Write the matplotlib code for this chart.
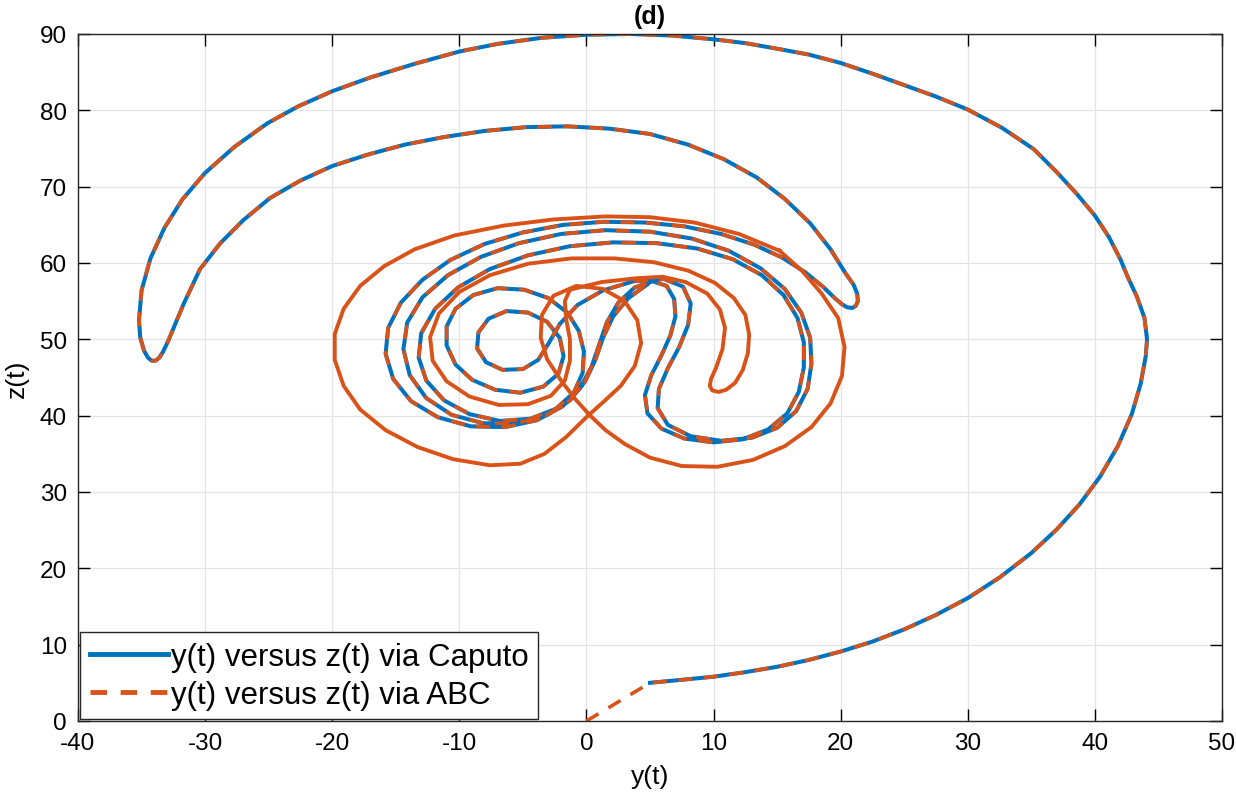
import numpy as np
import matplotlib.pyplot as plt
from matplotlib.lines import Line2D

plt.rcParams['font.family'] = ['Liberation Sans', 'DejaVu Sans']
plt.rcParams['axes.unicode_minus'] = False

BLUE = '#0072BD'
ORANGE = '#D95319'

# ABC starts at the origin, Caputo joins at (5, 5)
abc_start_y = [0.0]
abc_start_z = [0.0]

# outer spiral, shared by both methods
outer_y = [5, 7.5, 10, 12.5, 15, 17.5, 20, 22.5, 25, 27.5, 30, 32.5, 35, 37, 38.8, 40.4, 41.8, 42.9,
           43.6, 44.0, 44.1, 43.9, 43.3, 42.6, 42.0, 41.1, 40.0, 38.6, 37.0, 35.2, 32.7, 30.0, 27.5, 25.0,
           22.5, 20.0, 17.5, 14.9, 12.5, 10.0, 6.7, 3.4, 0.0, -3.5, -7.0, -10.0, -13.5, -17.0, -20.0,
           -22.7, -25.1, -27.7, -30.0, -31.8, -33.2, -34.3, -35.0, -35.2, -35.1, -34.8, -34.5, -34.2,
           -33.9, -33.6, -33.3, -32.9, -32.4, -31.7, -30.4, -28.8, -27.0, -24.9, -22.5, -20.0, -17.2,
           -14.3, -11.2, -8.0, -4.7, -1.5, 1.8, 5.0, 8.0, 10.8, 13.4, 15.6, 17.6, 19.2, 20.4, 21.0,
           21.3, 21.35, 21.2, 20.9, 20.5, 20.1]
outer_z = [5, 5.4, 5.8, 6.4, 7.1, 8.0, 9.1, 10.4, 12.0, 13.9, 16.1, 18.8, 22.0, 25.1, 28.4, 32.0, 36.0, 40.2,
           44.2, 47.8, 50.0, 52.8, 55.6, 58.1, 60.5, 63.4, 66.2, 69.0, 71.9, 74.9, 77.7, 80.1, 81.8, 83.3,
           84.8, 86.2, 87.3, 88.1, 88.8, 89.3, 89.8, 90.0, 89.9, 89.5, 88.7, 87.7, 86.1, 84.3, 82.5,
           80.5, 78.3, 75.2, 71.8, 68.3, 64.6, 60.6, 56.4, 52.5, 50.2, 48.5, 47.6, 47.2,
           47.2, 47.6, 48.4, 49.8, 51.8, 54.6, 59.2, 62.6, 65.6, 68.5, 70.8, 72.7, 74.2,
           75.5, 76.5, 77.3, 77.8, 77.9, 77.6, 76.9, 75.5, 73.6, 71.2, 68.4, 65.2, 61.8, 58.6, 57.2,
           56.0, 55.0, 54.4, 54.1, 54.2, 54.6]

# inner double-scroll loops (Caputo, followed by ABC)
inner_y = [19.6, 18.6, 17.2, 15.4, 13.2, 10.6, 7.7, 4.6, 1.4, -1.8, -5.0, -8.0, -10.7, -12.9, -14.6, -15.6,
           -15.8, -15.2, -13.8, -11.7, -9.1, -6.4, -3.9, -1.9, -0.5, 0.4, 1.0, 1.6, 2.5, 3.8, 5.2, 6.3,
           6.9, 7.0, 6.6, 5.9, 5.1, 4.6, 4.8, 5.9, 7.7, 10.0, 12.3, 14.3, 15.8, 16.7, 17.1, 17.1, 16.6,
           15.5, 13.8, 11.5, 8.7, 5.5, 2.1, -1.3, -4.6, -7.6, -10.1, -11.9, -13.0, -13.2, -12.6, -11.2,
           -9.2, -6.8, -4.4, -2.4, -1.0, -0.3, -0.2, -0.6, -1.5, -3.0, -4.9, -7.0, -8.9, -10.3, -11.0,
           -11.0, -10.3, -9.0, -7.2, -5.2, -3.4, -2.2, -1.8, -2.1, -3.1, -4.6, -6.3, -7.7, -8.5, -8.6,
           -7.9, -6.6, -5.0, -3.8, -3.0, -2.1, -0.7, 1.3, 3.7, 6.1, 7.6, 8.2, 8.0, 7.3, 6.4, 5.7, 5.6,
           6.4, 8.2, 10.6, 13.0, 15.0, 16.5, 17.4, 17.7, 17.6, 16.9, 15.6, 13.7, 11.2, 8.3, 5.0, 1.5,
           -2.0, -5.3, -8.3, -10.9, -12.9, -14.1, -14.4, -13.9, -12.6, -10.6, -8.1, -5.5, -3.1, -1.3,
           -0.1, 0.7, 1.3, 2.1, 3.3, 4.8]
inner_z = [55.3, 56.9, 58.8, 60.7, 62.4, 63.8, 64.8, 65.3, 65.4, 65.0, 64.0, 62.5, 60.4, 57.8, 54.8, 51.5,
           48.1, 44.8, 41.9, 39.8, 38.6, 38.5, 39.4, 41.2, 43.6, 46.4, 49.3, 52.2, 54.8, 56.8, 57.6, 57.0,
           55.3, 53.0, 50.5, 47.9, 45.3, 42.7, 40.3, 38.3, 37.0, 36.5, 36.9, 38.2, 40.3, 43.1, 46.3, 49.6, 52.8,
           55.8, 58.4, 60.5, 61.9, 62.6, 62.7, 62.2, 61.0, 59.2, 56.8, 54.0, 50.8, 47.6, 44.6, 42.0,
           40.2, 39.3, 39.6, 40.9, 43.0, 45.6, 48.4, 51.1, 53.5, 55.4, 56.5, 56.7, 55.8, 54.0, 51.7,
           49.2, 46.7, 44.7, 43.4, 43.0, 43.8, 45.5, 47.8, 50.2, 52.3, 53.5, 53.7, 52.7, 50.9, 48.8,
           47.0, 46.0, 46.1, 47.3, 49.4, 52.0, 54.5, 56.4, 57.6, 57.9, 56.9, 54.7, 51.9, 49.0, 46.2, 43.5, 41.0,
           38.8, 37.3, 36.7, 37.1, 38.4, 40.6, 43.5, 46.8, 50.2, 53.5, 56.6, 59.3, 61.6, 63.2, 64.1, 64.3,
           63.8, 62.6, 60.8, 58.4, 55.5, 52.2, 48.7, 45.3, 42.3, 40.1, 39.0, 39.0, 40.1, 42.0,
           44.5, 47.3, 50.2, 53.0, 55.4, 57.2]

# ABC loops that are run through repeatedly (drawn solid)
abc_cycle_y = [15.2, 12.0, 8.5, 5.0, 1.5, -2.6, -6.5, -10.4, -13.5, -15.9, -17.8, -19.1, -19.8, -19.8, -19.1,
               -17.8, -15.8, -13.3, -10.5, -7.6, -5.2, -3.3, -1.6, 0.0, 1.4, 2.7, 3.8, 4.3, 4.0, 3.0, 1.3,
               -0.8, -2.6, -3.5, -3.6, -3.1, -2.0, -0.9, 0.3, 1.5, 3.0, 5.0, 7.5, 10.3, 13.1, 15.6, 17.7,
               19.2, 20.1, 20.3, 19.8, 18.5, 17.0, 15.2]
abc_cycle_z = [61.6, 63.8, 65.3, 66.0, 66.1, 65.7, 64.9, 63.6, 61.8, 59.6, 57.0, 54.0, 50.7, 47.3, 43.9,
               40.8, 38.1, 35.9, 34.3, 33.5, 33.7, 35.0, 37.2, 39.8, 41.9, 43.9, 46.5, 49.5, 52.5, 55.0, 56.6,
               57.0, 55.7, 53.2, 50.2, 47.4, 44.6, 42.2, 40.0, 38.1, 36.3, 34.5, 33.4, 33.3, 34.2, 36.0, 38.5,
               41.6, 45.2, 49.0, 52.8, 56.0, 58.9, 61.6]
abc_finger_y = [-1.3, 1.2, 3.9, 6.0, 7.8, 9.5, 10.5, 10.9, 10.7, 10.2, 9.8, 9.7, 9.9, 10.4, 11.0, 11.7, 12.3,
                12.7, 12.8, 12.5, 11.6, 10.1, 8.0, 5.3, 2.2, -1.2, -4.6, -7.6, -10.0, -11.6, -12.3, -12.1,
                -11.0, -9.2, -6.9, -4.6, -2.8, -1.7, -1.3, -1.3, -1.6, -1.7, -1.3]
abc_finger_z = [56.5, 57.5, 58.0, 58.2, 57.5, 56.0, 53.9, 51.5, 48.7, 46.3, 44.8, 43.9, 43.3, 43.1, 43.4, 44.3, 46.0,
                48.2, 50.6, 53.2, 55.4, 57.4, 59.0, 60.1, 60.6, 60.6, 59.9, 58.4, 56.2, 53.4, 50.3, 47.2,
                44.5, 42.5, 41.4, 41.5, 42.6, 44.6, 47.2, 50.0, 52.7, 55.0, 56.5]

caputo_y = outer_y + inner_y
caputo_z = outer_z + inner_z
abc_y = abc_start_y + outer_y + inner_y
abc_z = abc_start_z + outer_z + inner_z

fig = plt.figure(figsize=(12.36, 8.04), dpi=100)
ax = fig.add_axes([0.0631, 0.102, 0.9256, 0.8545])

ax.plot(caputo_y, caputo_z, '-', color=BLUE, lw=2.9, solid_joinstyle='round')
ax.plot(abc_y, abc_z, '--', color=ORANGE, lw=2.6, dashes=(3.9, 3.2), dash_joinstyle='round')
ax.plot(abc_cycle_y, abc_cycle_z, '-', color=ORANGE, lw=2.8, solid_joinstyle='round')
ax.plot(abc_finger_y, abc_finger_z, '-', color=ORANGE, lw=2.8, solid_joinstyle='round')

ax.set_xlim(-40, 50)
ax.set_ylim(0, 90)
ax.set_xticks(np.arange(-40, 51, 10))
ax.set_yticks(np.arange(0, 91, 10))
ax.grid(True, color='#e3e3e3', lw=0.9)
ax.set_axisbelow(True)
ax.tick_params(direction='in', length=8.5, width=1, labelsize=17.5, top=True, right=True, pad=8)
for s in ax.spines.values():
    s.set_linewidth(1.0)
    s.set_color('#262626')

ax.set_xlabel('y(t)', fontsize=19, labelpad=7)
ax.set_ylabel('z(t)', fontsize=19, labelpad=8)
ax.set_title('(d)', fontsize=18, fontweight='bold', pad=8)

handles = [Line2D([], [], color=BLUE, lw=3.5),
           Line2D([], [], color=ORANGE, lw=3.5, ls='--', dashes=(3.4, 2.8))]
leg = ax.legend(handles, ['y(t) versus z(t) via Caputo', 'y(t) versus z(t) via ABC'],
                loc='lower left', bbox_to_anchor=(0.002, 0.003), borderaxespad=0,
                fontsize=22.5, handlelength=2.5, handletextpad=0.1, labelspacing=0.25,
                borderpad=0.3, fancybox=False, framealpha=1, edgecolor='#262626')
leg.get_frame().set_linewidth(1.0)

fig.savefig('out.png', dpi=100)
